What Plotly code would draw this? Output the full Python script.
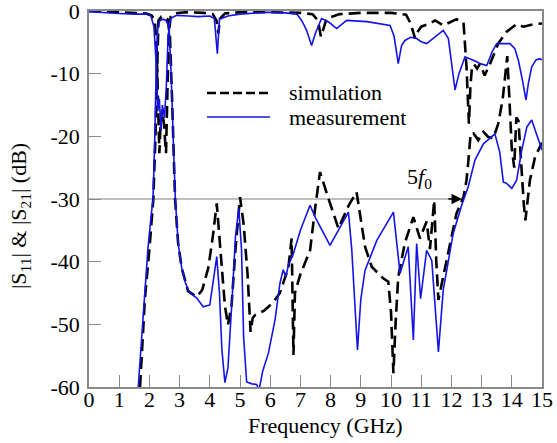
import plotly.graph_objects as go

# ---------------- data ----------------
s11_sim_f = [0, 0.5, 1.0, 1.5, 1.9, 2.07, 2.18, 2.24, 2.29, 2.33, 2.37, 2.42, 2.48, 2.55, 2.6, 2.64, 2.7, 2.8,
             3.2, 3.8, 4.1, 4.22, 4.28, 4.34, 4.5, 5.0, 6.0, 7.0, 7.4, 7.58, 7.68, 7.78, 7.87, 8.3, 9.0, 10.0,
             10.5, 10.65, 10.8, 10.9, 11.0, 11.29, 11.46, 11.73, 11.95, 12.17, 12.4, 12.5, 12.58, 12.63, 12.68,
             12.75, 12.85, 12.95, 13.1, 13.28, 13.55, 13.83, 14.16, 14.38, 14.72, 15.0]
s11_sim_db = [0, -0.1, -0.15, -0.3, -0.4, -0.7, -1.5, -6, -14, -22.7, -18, -15.8, -18, -22.7, -12, -4, -1, -0.4,
              -0.2, -0.3, -0.5, -1.5, -3.6, -1.2, -0.4, -0.2, -0.2, -0.3, -0.5, -1.5, -4.1, -2.5, -1.2, -0.5, -0.3, -0.3,
              -0.6, -2, -4.4, -3.2, -2.5, -2.0, -1.5, -2.3, -1.8, -1.3, -1.8, -8.9, -18, -12, -9,
              -8.5, -9.2, -8.4, -10.3, -8.4, -5.2, -3.3, -2.1, -2.5, -2.1, -2.0]

s11_meas_f = [0, 0.5, 1.0, 1.5, 1.9, 2.05, 2.15, 2.22, 2.28, 2.33, 2.38, 2.43, 2.5, 2.56, 2.62, 2.7, 2.9, 3.3,
              3.6, 4.0, 4.15, 4.25, 4.32, 4.6, 5.0, 5.9, 6.5, 6.88, 7.04, 7.2, 7.37, 7.5, 7.6, 7.7, 7.95, 8.2,
              8.53, 9.2, 9.97, 10.1, 10.24, 10.35, 10.46, 10.65, 10.85, 11.0, 11.18, 11.46, 11.73, 11.9, 12.0,
              12.12, 12.25, 12.45, 12.84, 12.95, 13.17, 13.35, 13.5, 13.94, 14.1, 14.22, 14.35, 14.47, 14.55,
              14.66, 14.8, 14.93, 15.0]
s11_meas_db = [-0.1, -0.3, -0.4, -0.5, -0.5, -0.8, -2.5, -8, -16, -14, -19, -15, -17, -12, -4, -1.2, -0.7, -0.8,
               -0.9, -0.8, -1.2, -6.8, -1.3, -0.8, -0.5, -0.2, -0.3, -0.5, -1.5, -3, -5.5, -3.5, -2.3, -1.2, -1.8, -2.8,
               -1.5, -1.7, -2.3, -4, -8.4, -5.5, -4.7, -4.2, -4.4, -4.9, -5.2, -4.1, -3.1, -4.4, -8,
               -12.6, -10, -7.3, -8.1, -8.4, -8.7, -6.5, -5.2, -5.2, -6, -7.9, -11, -14.2, -11.5,
               -8.9, -7.8, -7.6, -7.8]

s21_sim_f = [1.69, 1.85, 2.0, 2.13, 2.2, 2.25, 2.3, 2.4, 2.5, 2.6, 2.68, 2.75, 2.85, 2.95, 3.07, 3.28, 3.57,
             3.75, 3.95, 4.1, 4.23, 4.35, 4.5, 4.6, 4.72, 4.85, 5.0, 5.12, 5.25, 5.35, 5.42, 5.5, 5.8, 6.1,
             6.32, 6.6, 6.71, 6.77, 6.82, 7.0, 7.32, 7.5, 7.65, 7.9, 8.26, 8.6, 8.86, 9.14, 9.36, 9.75, 9.91,
             10.0, 10.08, 10.15, 10.24, 10.46, 10.74, 10.96, 11.18, 11.29, 11.43, 11.5, 11.57, 11.84, 12.17,
             12.4, 12.5, 12.56, 12.64, 12.73, 12.89, 13.06, 13.22, 13.39, 13.55, 13.7, 13.85, 13.92, 14.0,
             14.08, 14.15, 14.22, 14.3, 14.4, 14.45, 14.52, 14.6, 14.77, 15.0]
s21_sim_db = [-60, -46, -38, -30, -20, -8, -1.5, -0.9, -0.9, -1.3, -4, -14, -30, -37, -41, -44.7, -45.6,
              -44.5, -41, -36, -30.7, -38, -47, -50.1, -47, -38, -29.7, -34, -42, -51.2, -49, -48.5, -47.8, -46.5,
              -45, -41, -36.3, -54.9, -45, -42, -38.2, -31, -25.7, -29.5, -34.7, -31, -28.9, -37.6, -40.8, -42.7, -43.2,
              -48, -57.8, -50, -42.4, -37, -32.9, -36.3, -33.6, -38, -30.2, -40, -46.1, -39.8, -32.3,
              -29.7, -27, -24, -19.5, -19.5, -20.6, -19.3, -20.1, -20.3, -18, -14, -7.2, -14, -22,
              -25, -17, -17.5, -24, -31, -33.4, -30, -27, -23.3, -21]

s21_meas_f = [1.63, 1.8, 1.95, 2.05, 2.12, 2.18, 2.23, 2.28, 2.35, 2.45, 2.55, 2.65, 2.72, 2.8, 2.86, 2.95,
              3.07, 3.2, 3.34, 3.57, 3.78, 4.0, 4.12, 4.23, 4.32, 4.4, 4.5, 4.6, 4.75, 4.85, 4.96, 5.05, 5.12,
              5.22, 5.4, 5.55, 5.63, 5.75, 5.94, 6.16, 6.32, 6.43, 6.52, 6.6, 6.77, 7.0, 7.32, 7.5, 7.98, 8.3,
              8.59, 8.7, 8.89, 9.0, 9.14, 9.53, 9.8, 10.08, 10.3, 10.57, 10.74, 10.85, 10.98, 11.18, 11.35,
              11.57, 11.73, 12.06, 12.34, 12.56, 12.78, 13.06, 13.44, 13.6, 13.72, 13.83, 14.0, 14.16, 14.33,
              14.5, 14.66, 14.88, 15.0]
s21_meas_db = [-60, -48, -38, -33, -30, -20, -8, -2.5, -1.5, -1.3, -1.5, -2.5, -10, -22, -30, -37,
               -41, -43.5, -45, -45.8, -47.2, -46.9, -42.4, -39.2, -45, -54, -59.3, -57, -45, -36, -31.5, -38, -52,
               -59.2, -59.5, -59.6, -60.5, -57.5, -54.6, -49.3, -43.5, -41.3, -42.4, -40.6, -38.7, -35, -31, -33, -37.4, -34.5,
               -32.1, -38, -54.1, -46, -41.4, -36.6, -34.5, -32.1, -41.9, -37.6, -52.5, -37.1, -45.9, -38.2, -39.8,
               -54.4, -44.5, -35.5, -31, -28, -23.8, -21.2, -19.6, -22.5, -27.3, -27.5, -28.3, -27, -22.2,
               -18.5, -17.4, -20.6, -22.2]

x_ticks = list(range(0, 16))
y_ticks = [0, -10, -20, -30, -40, -50, -60]
legend_names = ["simulation", "measurement"]
ref_level = -30          # stopband rejection level
ref_end = 12.35          # 5 f0 frequency (GHz)

FONT = "'Liberation Serif', 'Times New Roman', Times, 'DejaVu Serif', serif"
FS = 22
BLACK_DASH = dict(color="black", width=2.6, dash="12px,6px")
BLUE = dict(color="#1414e6", width=1.6)

fig = go.Figure()
fig.add_trace(go.Scatter(x=s11_sim_f, y=s11_sim_db, mode="lines", line=BLACK_DASH,
                         name=legend_names[0], showlegend=False))
fig.add_trace(go.Scatter(x=s21_sim_f, y=s21_sim_db, mode="lines", line=BLACK_DASH,
                         name=legend_names[0], showlegend=False))
fig.add_trace(go.Scatter(x=s11_meas_f, y=s11_meas_db, mode="lines", line=BLUE,
                         name=legend_names[1], showlegend=False))
fig.add_trace(go.Scatter(x=s21_meas_f, y=s21_meas_db, mode="lines", line=BLUE,
                         name=legend_names[1], showlegend=False))

# legend (drawn inside the plot like the original figure)
leg_rows = [(0.782, dict(color="black", width=2.6, dash="9px,4px")),
            (0.718, dict(color="#1414e6", width=1.6))]
for (ly, lstyle), lname in zip(leg_rows, legend_names):
    fig.add_shape(type="line", xref="paper", yref="paper", x0=0.2605, x1=0.3996, y0=ly, y1=ly, line=lstyle)
    fig.add_annotation(x=0.437, y=ly, xref="paper", yref="paper", text=lname, showarrow=False,
                       xanchor="left", yanchor="middle", font=dict(family=FONT, size=FS, color="black"))

# -30 dB reference line with arrow to 5f0
fig.add_shape(type="line", xref="x", yref="y", x0=0, x1=ref_end - 0.3, y0=ref_level, y1=ref_level,
              line=dict(color="#808080", width=1.2), layer="below")
fig.add_annotation(x=ref_end, y=ref_level, ax=ref_end - 0.5, ay=ref_level, xref="x", yref="y",
                   axref="x", ayref="y", showarrow=True, arrowhead=2, arrowsize=1.3, arrowwidth=1.6,
                   arrowcolor="black", text="")
fig.add_annotation(x=10.95, y=-26.6, xref="x", yref="y", text="5<i>f</i><sub>0</sub>", showarrow=False,
                   font=dict(family=FONT, size=FS, color="black"))

# axis titles
fig.add_annotation(x=0.523, y=-0.103, xref="paper", yref="paper", text="Frequency (GHz)", showarrow=False,
                   xanchor="center", yanchor="middle", font=dict(family=FONT, size=FS, color="black"))
fig.add_annotation(x=-0.152, y=0.455, xref="paper", yref="paper",
                   text="|S<sub>11</sub>| &amp; |S<sub>21</sub>| (dB)", showarrow=False, textangle=-90,
                   xanchor="center", yanchor="middle", font=dict(family=FONT, size=FS, color="black"))

axis_common = dict(showgrid=False, zeroline=False, showline=True, linecolor="#8a8a8a", linewidth=1.5,
                   mirror=True, ticks="inside", ticklen=12, tickcolor="#8a8a8a", tickwidth=1.3,
                   automargin=False, ticklabeloverflow="allow",
                   tickfont=dict(family=FONT, size=FS, color="black"))

fig.update_layout(
    width=557, height=443,
    margin=dict(l=89, r=15, t=11, b=56),
    paper_bgcolor="white", plot_bgcolor="white",
    font=dict(family=FONT, size=FS, color="black"),
    showlegend=False,
    xaxis=dict(range=[0, 15], tickvals=x_ticks, ticktext=[str(t) for t in x_ticks],
               ticklabelstandoff=-8, **axis_common),
    yaxis=dict(range=[-60, 0], tickvals=y_ticks, ticktext=[str(t) for t in y_ticks],
               ticklabelstandoff=3, **axis_common),
)

fig.write_html("out.html")
